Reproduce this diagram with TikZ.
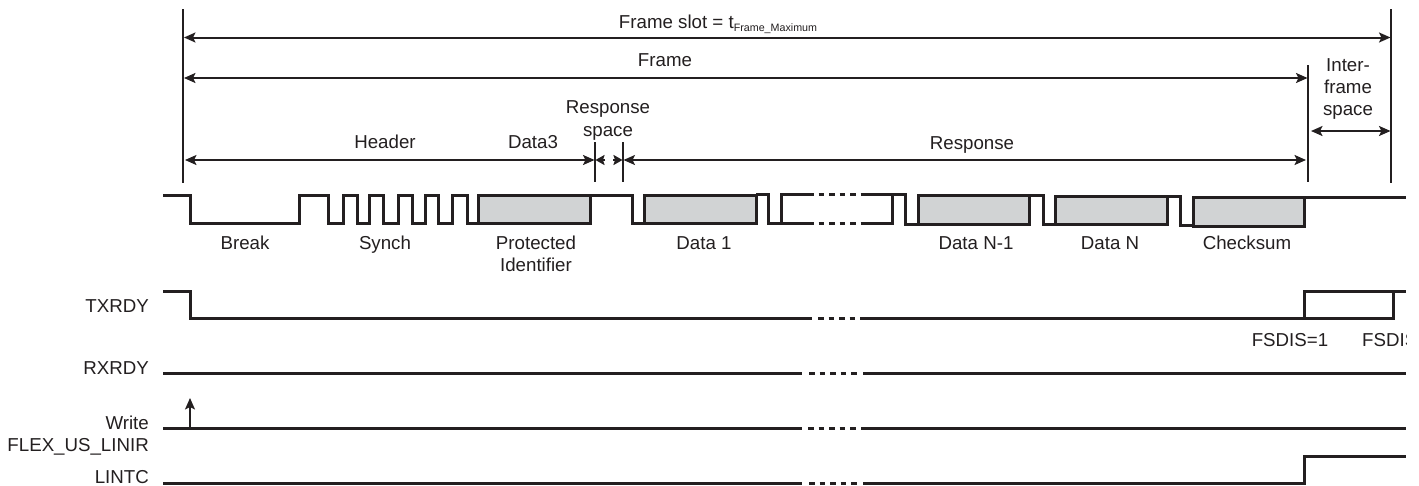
\documentclass[tikz,border=0pt]{standalone}
\usepackage{fontspec}
\setmainfont{Liberation Sans}
\usetikzlibrary{arrows.meta}
\definecolor{ink}{HTML}{231F20}
\definecolor{boxgrey}{HTML}{D1D3D4}
\tikzset{
  sig/.style={draw=ink,line width=3pt,line cap=butt,line join=miter},
  byteframe/.style={sig,fill=boxgrey},
  tick/.style={draw=ink,line width=1.7pt},
  dimline/.style={draw=ink,line width=2pt},
  tipR/.style={-{Stealth[length=11.5pt,width=10pt,inset=2.5pt]}},
  tipLR/.style={{Stealth[length=11.5pt,width=10pt,inset=2.5pt]}-{Stealth[length=11.5pt,width=10pt,inset=2.5pt]}},
  stubR/.style={-{Stealth[length=9pt,width=10pt,inset=1.5pt]}},
  lab/.style={anchor=base,inner sep=0pt,text=ink,font=\fontsize{18.7}{22}\selectfont,align=center},
  sidelab/.style={lab,anchor=base east},
  gap/.style={sig,dash pattern=on 5.5pt off 5pt}
}
\begin{document}
\begin{tikzpicture}[x=1pt,y=-1pt]
\useasboundingbox (0,0) rectangle (1419,485);
\fill[white] (0,0) rectangle (1419,485);
% time markers
\coordinate (frameL) at (183,9);
\coordinate (frameLb) at (183,183);
\coordinate (slotR) at (1391,9);
\coordinate (slotRb) at (1391,183);
\coordinate (frameR) at (1308,65);
\coordinate (frameRb) at (1308,182);
\draw[tick] (frameL) -- (frameLb);
\draw[tick] (slotR) -- (slotRb);
\draw[tick] (frameR) -- (frameRb);
\draw[tick] (595,142) -- (595,182);
\draw[tick] (623,142) -- (623,182);
% dimension arrows
\draw[dimline,tipLR] (184,37.5) -- (1390.5,37.5);
\draw[dimline,tipLR] (184,78) -- (1307.5,78);
\draw[dimline,tipLR] (185,160) -- (594.5,160);
\draw[dimline,stubR] (605,160) -- (595.5,160);
\draw[dimline,stubR] (613,160) -- (622.5,160);
\draw[dimline,tipLR] (623.5,160) -- (1306,160);
\draw[dimline,tipLR] (1311,131) -- (1390.5,131);
% dimension labels
\node[lab] (slotlab) at (718,28) {Frame slot = t\raisebox{-3.5pt}{\fontsize{10.7}{10}\selectfont Frame\_Maximum}};
\node[lab] (framelab) at (665,66) {Frame};
\node[lab] (headerlab) at (385,148) {Header};
\node[lab] (d3lab) at (533,148) {Data3};
\node[lab] (rsp1) at (608,113) {Response};
\node[lab] (rsp2) at (608,136) {space};
\node[lab] (resplab) at (972,149) {Response};
\node[lab] (if1) at (1348,71) {Inter-};
\node[lab] (if2) at (1348,93) {frame};
\node[lab] (if3) at (1348,115) {space};
% LIN frame waveform
\draw[byteframe] (478,195) rectangle (590,223);
\draw[byteframe] (644,195) rectangle (756,223.5);
\draw[byteframe] (918,195) rectangle (1029,224);
\draw[byteframe] (1055,196) rectangle (1167,224.5);
\draw[byteframe] (1193,197) rectangle (1304,226);
\draw[sig] (163,195) -- (190,195) -- (190,223) -- (299.5,223) -- (299.5,195) -- (328,195) -- (328,223)
  -- (343,223) -- (343,195) -- (357,195) -- (357,223) -- (369,223) -- (369,195) -- (383,195) -- (383,223)
  -- (398,223) -- (398,195) -- (412,195) -- (412,223) -- (425,223) -- (425,195) -- (438,195) -- (438,223)
  -- (452,223) -- (452,195) -- (467,195) -- (467,223) -- (478,223);
\draw[sig] (590,195) -- (632,195) -- (632,223.5) -- (644,223.5);
\draw[sig] (756,194.5) -- (768,194.5) -- (768,223.5) -- (781,223.5) -- (781,194.5) -- (808,194.5);
\draw[sig] (781,223) -- (808,223);
\draw[gap] (808,194.5) -- (865,194.5);
\draw[gap] (808,223) -- (865,223);
\draw[sig] (865,194.5) -- (905,194.5) -- (905,224) -- (918,224);
\draw[sig] (865,223) -- (892,223) -- (892,194.5);
\draw[sig] (1029,195.5) -- (1043,195.5) -- (1043,224.5) -- (1055,224.5);
\draw[sig] (1167,196.5) -- (1180,196.5) -- (1180,225.5) -- (1193,225.5);
\draw[sig] (1304,197) -- (1406,197);
% byte labels
\node[lab] (breaklab) at (245,249) {Break};
\node[lab] (synchlab) at (385,249) {Synch};
\node[lab] (pidlab) at (536,249) {Protected};
\node[lab] (pidlab2) at (536,271) {Identifier};
\node[lab] (d1lab) at (704,249) {Data 1};
\node[lab] (dn1lab) at (976,249) {Data N-1};
\node[lab] (dnlab) at (1110,249) {Data N};
\node[lab] (cslab) at (1247,249) {Checksum};
% TXRDY
\node[sidelab] (txlab) at (149,312) {TXRDY};
\draw[sig] (163,291) -- (190,291) -- (190,318) -- (812,318);
\draw[gap] (818,318) -- (861,318);
\draw[sig] (861,318) -- (1393,318) -- (1393,291);
\draw[sig] (1304,318) -- (1304,291) -- (1406,291);
\node[lab] (fs1) at (1290,346) {FSDIS=1};
\begin{scope}
\clip (1340,320) rectangle (1406,360);
\node[lab,anchor=base west] (fs2) at (1362,346) {FSDIS};
\end{scope}
% RXRDY
\node[sidelab] (rxlab) at (149,374) {RXRDY};
\draw[sig] (163,373) -- (802,373);
\draw[gap] (809,373) -- (858,373);
\draw[sig] (863,373) -- (1406,373);
% Write
\node[sidelab] (wrlab) at (149,429) {Write};
\node[sidelab] (flexlab) at (149,451) {FLEX\_US\_LINIR};
\draw[sig] (163,428) -- (802,428);
\draw[gap] (808,428) -- (857,428);
\draw[sig] (861,428) -- (1406,428);
\draw[tick,tipR] (190,428) -- (190,398);
% LINTC
\node[sidelab] (intlab) at (149,483) {LINTC};
\draw[sig] (163,483) -- (802,483);
\draw[gap] (809,483) -- (858,483);
\draw[sig] (863,483) -- (1304,483) -- (1304,456) -- (1406,456);
\end{tikzpicture}
\end{document}
